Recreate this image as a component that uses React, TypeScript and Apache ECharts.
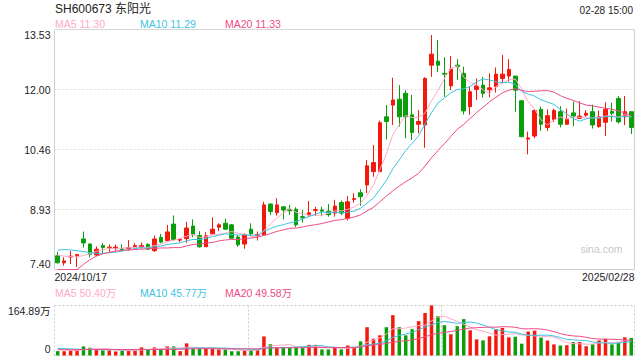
import React, { useEffect, useRef } from "react";
import * as echarts from "echarts";

// ---------- data ----------
const dates = [
  "2024/10/17","2024/10/18","2024/10/21","2024/10/22","2024/10/23","2024/10/24","2024/10/25","2024/10/28","2024/10/29","2024/10/30","2024/10/31",
  "2024/11/01","2024/11/04","2024/11/05","2024/11/06","2024/11/07","2024/11/08","2024/11/11","2024/11/12","2024/11/13","2024/11/14","2024/11/15",
  "2024/11/18","2024/11/19","2024/11/20","2024/11/21","2024/11/22","2024/11/25","2024/11/26","2024/11/27","2024/11/28","2024/11/29",
  "2024/12/02","2024/12/03","2024/12/04","2024/12/05","2024/12/06","2024/12/09","2024/12/10","2024/12/11","2024/12/12","2024/12/13",
  "2024/12/16","2024/12/17","2024/12/18","2024/12/19","2024/12/20","2024/12/23","2024/12/24","2024/12/25","2024/12/26","2024/12/27",
  "2024/12/30","2024/12/31",
  "2025/01/02","2025/01/03","2025/01/06","2025/01/07","2025/01/08","2025/01/09","2025/01/10","2025/01/13","2025/01/14","2025/01/15",
  "2025/01/16","2025/01/17","2025/01/20","2025/01/21","2025/01/22","2025/01/23","2025/01/24","2025/01/27",
  "2025/02/05","2025/02/06","2025/02/07","2025/02/10","2025/02/11","2025/02/12","2025/02/13","2025/02/14","2025/02/17","2025/02/18",
  "2025/02/19","2025/02/20","2025/02/21","2025/02/24","2025/02/25","2025/02/26","2025/02/27","2025/02/28",
];

const opens = [
  7.75, 7.57, 7.72, 7.75, 8.18, 8.05, 7.77, 8.01, 7.95, 7.95,
  7.93, 7.93, 7.98, 7.98, 8.04, 7.88, 8.22, 8.14, 8.56, 8.15,
  8.19, 8.51, 8.27, 7.98, 8.31, 8.48, 8.58, 8.54, 8.23, 8.05,
  8.43, 8.26, 8.28, 9.07, 8.85, 9.00, 8.94, 8.94, 8.75, 8.79,
  8.91, 8.92, 8.89, 8.84, 9.11, 8.71, 9.19, 9.36, 9.56, 9.90,
  9.90, 11.30, 11.60, 11.75, 11.90, 11.35, 11.11, 11.09, 12.62, 12.72,
  12.41, 12.09, 12.62, 12.41, 11.56, 12.00, 12.11, 11.99, 12.07, 12.28,
  12.34, 12.34, 11.71, 10.73, 10.81, 11.49, 11.03, 11.23, 11.43, 11.11,
  11.40, 11.26, 11.34, 11.43, 11.05, 11.16, 11.44, 11.77, 11.30, 11.43,
];
const closes = [
  7.57, 7.62, 7.74, 7.78, 8.08, 7.79, 7.92, 7.96, 7.97, 7.97,
  7.91, 7.96, 8.01, 8.01, 7.92, 8.18, 8.10, 8.36, 8.17, 8.17,
  8.46, 8.30, 7.98, 8.26, 8.43, 8.54, 8.43, 8.20, 8.03, 8.28,
  8.31, 8.29, 9.05, 8.88, 9.05, 8.92, 8.90, 8.54, 8.72, 8.85,
  8.93, 8.89, 8.80, 9.02, 8.84, 9.13, 9.21, 9.26, 10.05, 10.13,
  11.15, 11.18, 11.73, 11.30, 11.30, 10.90, 11.18, 12.28, 12.90, 12.62,
  12.39, 12.52, 12.58, 11.45, 11.94, 12.09, 11.90, 12.04, 12.39, 12.39,
  12.51, 11.98, 10.79, 10.76, 11.46, 11.11, 11.33, 11.46, 11.11, 11.23,
  11.32, 11.32, 11.39, 11.09, 11.30, 11.49, 11.39, 11.17, 11.43, 11.03,
];
const lows = [
  7.56, 7.50, 7.54, 7.46, 7.96, 7.71, 7.75, 7.81, 7.85, 7.87,
  7.86, 7.88, 7.93, 7.93, 7.90, 7.85, 8.07, 8.10, 8.14, 8.10,
  8.08, 8.23, 7.96, 7.98, 8.29, 8.38, 8.41, 8.19, 7.98, 7.93,
  8.26, 8.14, 8.28, 8.79, 8.78, 8.68, 8.79, 8.48, 8.60, 8.75,
  8.77, 8.76, 8.75, 8.75, 8.79, 8.65, 9.11, 9.03, 9.35, 9.77,
  9.90, 10.72, 11.09, 11.05, 10.75, 10.71, 10.88, 10.51, 12.32, 12.45,
  11.81, 11.98, 12.24, 11.36, 11.35, 11.73, 11.79, 11.80, 11.92, 12.16,
  12.20, 11.43, 10.79, 10.34, 10.75, 10.94, 10.94, 11.17, 11.03, 11.09,
  11.06, 11.26, 11.30, 11.00, 11.02, 10.81, 11.18, 11.13, 11.09, 10.86,
];
const highs = [
  7.85, 7.71, 7.87, 7.80, 8.37, 8.07, 7.99, 8.07, 8.04, 8.04,
  8.04, 8.15, 8.07, 8.09, 8.07, 8.27, 8.31, 8.54, 8.78, 8.20,
  8.62, 8.68, 8.38, 8.35, 8.73, 8.58, 8.70, 8.56, 8.28, 8.32,
  8.58, 8.37, 9.13, 9.09, 9.22, 9.02, 9.05, 8.99, 8.92, 9.15,
  9.00, 9.00, 9.07, 9.18, 9.16, 9.28, 9.35, 9.45, 10.20, 10.58,
  11.20, 11.60, 12.30, 12.11, 11.98, 11.86, 11.47, 12.31, 13.39, 13.26,
  12.82, 12.85, 12.77, 12.58, 12.07, 12.28, 12.32, 12.41, 12.56, 12.88,
  12.77, 12.34, 11.72, 10.92, 11.49, 11.56, 11.49, 11.51, 11.57, 11.51,
  11.69, 11.70, 11.47, 11.61, 11.46, 11.67, 11.66, 11.83, 11.83, 11.43,
];
// volume in 万 (10k shares)
const volumes = [
  14.4, 14.4, 16.7, 20, 30, 25.6, 20, 16.7, 16.7, 13.3,
  16.7, 16.7, 18.9, 26.6, 20, 26.6, 20, 30, 30, 14.4,
  40, 23.3, 23.3, 23.3, 23, 20, 20, 14, 14, 17,
  20, 20, 63, 37, 27, 27, 27, 27, 27, 35,
  35, 20, 20, 25.6, 20, 33, 28, 46.6, 93.3, 55.5,
  66.6, 93.3, 133, 93.3, 66.6, 86.6, 113, 140, 164.89, 130,
  100, 70, 96.6, 120, 83, 53.3, 50, 63.3, 86.6, 91,
  60, 62, 39, 79, 82, 59, 49.3, 36.6, 33, 34,
  44.3, 44.3, 30.5, 37, 49.6, 54.4, 36.6, 43.3, 60, 57.7,
];

// moving-average values at the start of the window (they depend on earlier sessions)
const ma5Lead = [7.77, 7.74, 7.73, 7.72];
const ma10Lead = [7.89, 7.91, 7.90, 7.88, 7.86, 7.83, 7.81, 7.81, 7.83];
const ma20Lead = [7.40, 7.40, 7.40, 7.40, 7.53, 7.65, 7.74, 7.80, 7.84, 7.87, 7.89, 7.90, 7.91, 7.92, 7.93, 7.94, 7.95, 7.95, 7.96];
const volMa5Lead = [22, 19, 17, 16];
const volMa10Lead = [24, 23, 22, 21, 20, 20, 19, 19, 19];
const volMa20Lead = [19, 19, 19, 19, 20, 20, 20, 20, 20, 20, 20, 20, 20, 20, 20, 20, 20, 20, 20];

const priceMin = 7.4;
const priceMax = 13.53;
const priceTickLabels = ["7.40", "8.93", "10.46", "12.00", "13.53"];
const volMax = 164.89;
const volTickLabels = ["0", "164.89万"];

const titleText = "SH600673 东阳光";
const timeText = "02-28 15:00";
const watermark = "sina.com";

// ---------- styling ----------
const FONT = "Arial, 'Liberation Sans', 'Noto Sans CJK SC', sans-serif";
const UP = "#f2190d";
const DOWN = "#0b9e0b";
const C_MA5 = "#ffaac8";
const C_MA10 = "#3ec4e2";
const C_MA20 = "#ee4c86";
const TEXT = "#222";

function movingAverage(values: number[], n: number, lead: number[]): number[] {
  return values.map((_, i) => {
    if (i < n - 1) return lead[i];
    let s = 0;
    for (let k = i - n + 1; k <= i; k++) s += values[k];
    return s / n;
  });
}

function buildOption() {
  const ma5 = movingAverage(closes, 5, ma5Lead);
  const ma10 = movingAverage(closes, 10, ma10Lead);
  const ma20 = movingAverage(closes, 20, ma20Lead);
  const vma5 = movingAverage(volumes, 5, volMa5Lead);
  const vma10 = movingAverage(volumes, 10, volMa10Lead);
  const vma20 = movingAverage(volumes, 20, volMa20Lead);
  const last = (a: number[]) => a[a.length - 1];
  const step = (priceMax - priceMin) / 4;
  const base = { fontSize: 10.5, fontFamily: FONT, color: TEXT };

  const lineSeries = (name: string, data: number[], color: string, xi: number, yi: number) => ({
    type: "line",
    name,
    data,
    xAxisIndex: xi,
    yAxisIndex: yi,
    symbol: "none",
    showSymbol: false,
    smooth: false,
    lineStyle: { width: 1, color },
    itemStyle: { color },
    z: 3,
  });

  const legendText = (x: number, y: number, text: string, color: string) => ({
    type: "text",
    x,
    y,
    style: { text, fill: color, fontSize: 10.5, fontFamily: FONT, align: "left", verticalAlign: "middle" },
  });

  return {
    animation: false,
    backgroundColor: "#ffffff",
    grid: [
      { left: 54.5, top: 29.5, width: 580, height: 240, show: true, borderColor: "#cfcfcf", borderWidth: 1, backgroundColor: "transparent" },
      { left: 54.5, top: 305.5, width: 580, height: 50, show: false },
    ],
    xAxis: [
      {
        type: "category", gridIndex: 0, data: dates, boundaryGap: true,
        axisLine: { show: false }, axisTick: { show: false }, axisLabel: { show: false }, splitLine: { show: false },
      },
      {
        type: "category", gridIndex: 0, data: dates, boundaryGap: false, position: "bottom",
        axisLine: { show: false }, axisTick: { show: false }, splitLine: { show: false },
        axisLabel: {
          show: true,
          margin: 2,
          interval: (idx: number) => idx === 0 || idx === dates.length - 1,
          formatter: (v: string, idx: number) => (idx === 0 ? `{first|${v}}` : `{last|${v}}`),
          rich: {
            first: { ...base, padding: [0, 0, 0, 52.5] },
            last: { ...base, padding: [0, 52.5, 0, 0] },
          },
        },
      },
      {
        type: "category", gridIndex: 1, data: dates, boundaryGap: true,
        axisLine: { show: false }, axisTick: { show: false }, axisLabel: { show: false },
        splitLine: { show: true, interval: 29, lineStyle: { type: [2, 2], color: "#cfcfcf", width: 1 } },
      },
    ],
    yAxis: [
      {
        type: "value", gridIndex: 0, min: priceMin, max: priceMax, interval: step, scale: true,
        axisLine: { show: false }, axisTick: { show: false },
        splitLine: { show: true, showMinLine: false, showMaxLine: false, lineStyle: { type: [2, 2], color: "#dddddd", width: 1 } },
        axisLabel: {
          margin: 4,
          formatter: (v: number) => {
            const k = Math.round((v - priceMin) / step);
            const t = priceTickLabels[k];
            if (k === 0) return `{lo|${t}}`;
            if (k === 4) return `{hi|${t}}`;
            return `{n|${t}}`;
          },
          rich: {
            lo: { ...base, padding: [0, 0, 12, 0] },
            hi: { ...base, padding: [11, 0, 0, 0] },
            n: { ...base },
          },
        },
      },
      {
        type: "value", gridIndex: 1, min: 0, max: volMax, interval: volMax,
        axisLine: { show: false }, axisTick: { show: false },
        splitLine: { show: true, lineStyle: { type: [2, 2], color: "#cfcfcf", width: 1 } },
        axisLabel: {
          margin: 4,
          formatter: (v: number) => (v < volMax / 2 ? `{lo|${volTickLabels[0]}}` : `{hi|${volTickLabels[1]}}`),
          rich: {
            lo: { ...base, padding: [0, 0, 13, 0] },
            hi: { ...base, padding: [11, 0, 0, 0] },
          },
        },
      },
    ],
    series: [
      {
        type: "candlestick",
        xAxisIndex: 0,
        yAxisIndex: 0,
        barWidth: 4,
        data: dates.map((_, i) => [opens[i], closes[i], lows[i], highs[i]]),
        itemStyle: { color: UP, color0: DOWN, borderColor: UP, borderColor0: DOWN, borderWidth: 1 },
        z: 2,
      },
      lineSeries("MA5", ma5, C_MA5, 0, 0),
      lineSeries("MA10", ma10, C_MA10, 0, 0),
      lineSeries("MA20", ma20, C_MA20, 0, 0),
      {
        type: "bar",
        xAxisIndex: 2,
        yAxisIndex: 1,
        barWidth: 3.5,
        data: volumes.map((v, i) => ({ value: v, itemStyle: { color: closes[i] >= opens[i] ? UP : DOWN } })),
        z: 2,
      },
      lineSeries("VMA5", vma5, C_MA5, 2, 1),
      lineSeries("VMA10", vma10, C_MA10, 2, 1),
      lineSeries("VMA20", vma20, C_MA20, 2, 1),
    ],
    graphic: [
      {
        type: "text", x: 55, y: 9,
        style: { text: titleText, fill: TEXT, fontSize: 12, fontFamily: FONT, align: "left", verticalAlign: "middle" },
      },
      {
        type: "text", x: 633, y: 10,
        style: { text: timeText, fill: TEXT, fontSize: 10, fontFamily: FONT, align: "right", verticalAlign: "middle" },
      },
      legendText(55, 24, `MA5 ${last(ma5).toFixed(2)}`, C_MA5),
      legendText(140, 24, `MA10 ${last(ma10).toFixed(2)}`, C_MA10),
      legendText(225, 24, `MA20 ${last(ma20).toFixed(2)}`, C_MA20),
      legendText(55, 293, `MA5 ${last(vma5).toFixed(2)}万`, C_MA5),
      legendText(140, 293, `MA10 ${last(vma10).toFixed(2)}万`, C_MA10),
      legendText(225, 293, `MA20 ${last(vma20).toFixed(2)}万`, C_MA20),
      {
        type: "text", x: 622.5, y: 249,
        style: { text: watermark, fill: "#c8c8c8", fontSize: 10.5, fontFamily: FONT, align: "right", verticalAlign: "middle" },
      },
    ],
  };
}

export default function App() {
  const ref = useRef<HTMLDivElement>(null);
  useEffect(() => {
    if (!ref.current) return;
    const chart = echarts.init(ref.current, null, { renderer: "svg" });
    chart.setOption(buildOption() as any);
    return () => chart.dispose();
  }, []);
  return (
    <div
      ref={ref}
      style={{ position: "fixed", left: 0, top: 0, width: 640, height: 360, background: "#fff" }}
    />
  );
}
